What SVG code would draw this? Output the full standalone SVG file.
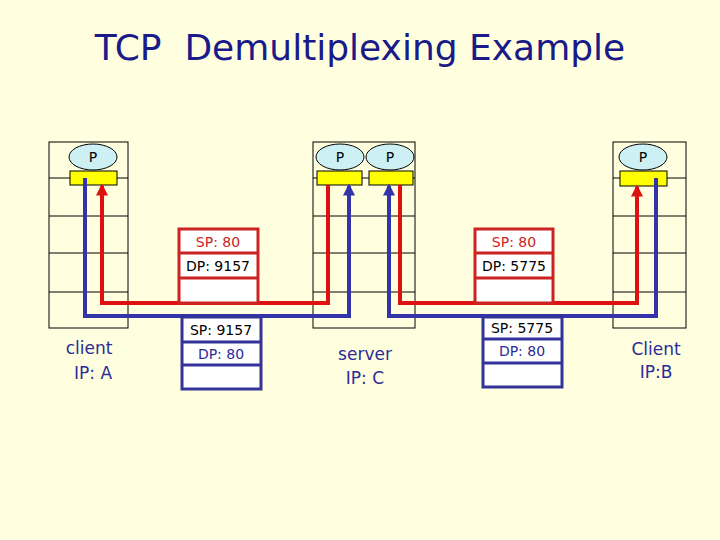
<svg xmlns="http://www.w3.org/2000/svg" width="720" height="540" viewBox="0 0 720 540">
<defs>
<style>
.host{fill:none;stroke:#000;stroke-width:1}
.ell{fill:#ccf0f4;stroke:#000;stroke-width:1}
.sock{fill:#ffff00;stroke:#000;stroke-width:1}
.p{font-family:"DejaVu Sans",sans-serif;font-size:14px;fill:#000;text-anchor:middle}
.lbl{font-family:"DejaVu Sans",sans-serif;font-size:17px;fill:#2b2b99;text-anchor:middle}
.pk{font-family:"DejaVu Sans",sans-serif;font-size:14px;text-anchor:middle}
.rb{fill:#fff;stroke:#cc2222;stroke-width:3}
.bb{fill:#fff;stroke:#333399;stroke-width:3}
.red{fill:none;stroke:#dd1111;stroke-width:4}
.blue{fill:none;stroke:#3333aa;stroke-width:4}
</style>
<marker id="ar" viewBox="0 0 10 10" refX="8" refY="5" markerWidth="3.5" markerHeight="3" orient="auto" markerUnits="strokeWidth"><path d="M0,0 L10,5 L0,10 Z" fill="#dd1111"/></marker>
<marker id="ab" viewBox="0 0 10 10" refX="8" refY="5" markerWidth="3.5" markerHeight="3" orient="auto" markerUnits="strokeWidth"><path d="M0,0 L10,5 L0,10 Z" fill="#3333aa"/></marker>
</defs>
<rect width="720" height="540" fill="#ffffe0"/>
<text x="360" y="60" font-family="DejaVu Sans,sans-serif" font-size="36" fill="#1a1a88" text-anchor="middle" xml:space="preserve">TCP  Demultiplexing Example</text>

<g id="hostA">
<rect class="host" x="49" y="142" width="79" height="186"/>
<path class="host" d="M49 178H128M49 216H128M49 253H128M49 292H128"/>
<ellipse class="ell" cx="93" cy="157" rx="24" ry="13"/>
<text class="p" x="93" y="162">P</text>
<rect class="sock" x="70" y="171" width="47" height="14"/>
<text class="lbl" x="89" y="354">client</text>
<text class="lbl" x="93" y="379">IP: A</text>
</g>
<g id="server">
<rect class="host" x="313" y="142" width="102" height="186"/>
<path class="host" d="M313 178H415M313 216H415M313 253H415M313 292H415"/>
<ellipse class="ell" cx="340" cy="157" rx="24" ry="13"/>
<text class="p" x="340" y="162">P</text>
<ellipse class="ell" cx="390" cy="157" rx="24" ry="13"/>
<text class="p" x="390" y="162">P</text>
<rect class="sock" x="317" y="171" width="45" height="14"/>
<rect class="sock" x="369" y="171" width="44" height="14"/>
<text class="lbl" x="365" y="360">server</text>
<text class="lbl" x="365" y="384">IP: C</text>
</g>
<g id="hostB">
<rect class="host" x="613" y="142" width="73" height="186"/>
<path class="host" d="M613 178H686M613 216H686M613 253H686M613 292H686"/>
<ellipse class="ell" cx="643" cy="157" rx="24" ry="13"/>
<text class="p" x="643" y="162">P</text>
<rect class="sock" x="620" y="171" width="47" height="15"/>
<text class="lbl" x="656" y="355">Client</text>
<text class="lbl" x="656" y="378" font-size="14">IP:B</text>
</g>

<g id="connectors">
<path class="red" d="M328 185V303H102V186" marker-end="url(#ar)"/>
<path class="red" d="M400 185V303H637V187" marker-end="url(#ar)"/>
<path class="blue" d="M85 178V316H349V186" marker-end="url(#ab)"/>
<path class="blue" d="M656 178V316H389V186" marker-end="url(#ab)"/>
</g>

<g id="pkt1">
<rect class="rb" x="179" y="229" width="79" height="74"/>
<path class="rb" d="M179 253H258M179 278H258"/>
<text class="pk" x="218" y="247" fill="#cc2222">SP: 80</text>
<text class="pk" x="218" y="271" fill="#000">DP: 9157</text>
</g>
<g id="pkt2">
<rect class="bb" x="182" y="317" width="79" height="72"/>
<path class="bb" d="M182 342H261M182 365H261"/>
<text class="pk" x="221" y="335" fill="#000">SP: 9157</text>
<text class="pk" x="221" y="359" fill="#2b2b99">DP: 80</text>
</g>
<g id="pkt3">
<rect class="rb" x="475" y="229" width="78" height="74"/>
<path class="rb" d="M475 253H553M475 278H553"/>
<text class="pk" x="514" y="247" fill="#cc2222">SP: 80</text>
<text class="pk" x="514" y="271" fill="#000">DP: 5775</text>
</g>
<g id="pkt4">
<rect class="bb" x="483" y="317" width="79" height="70"/>
<path class="bb" d="M483 339H562M483 363H562"/>
<text class="pk" x="522" y="333" fill="#000">SP: 5775</text>
<text class="pk" x="522" y="356" fill="#2b2b99">DP: 80</text>
</g>
</svg>
